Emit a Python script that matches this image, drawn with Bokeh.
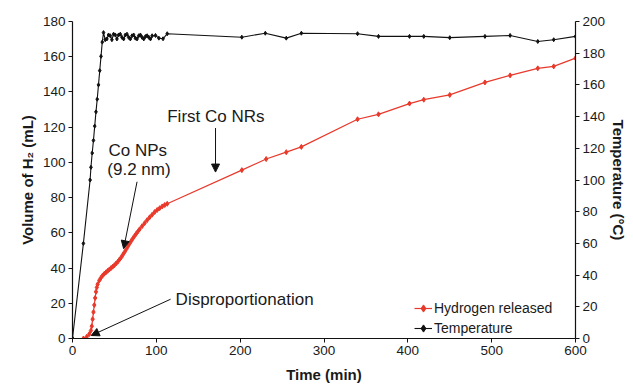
from bokeh.plotting import figure
from bokeh.models import (Range1d, LinearAxis, Arrow, NormalHead, Label,
                          Legend, LegendItem, FixedTicker)
from bokeh.embed import file_html
from bokeh.resources import INLINE

# ---- data ----
h2_time = [0, 13, 17, 20, 22, 23, 24, 25, 26, 27, 28, 29, 30, 32, 34, 36, 38, 40,
           42, 44, 46, 48, 50, 52, 54, 56, 58, 60, 62, 64, 66, 68, 70, 72, 74, 76,
           78, 80, 83, 86, 89, 92, 95, 98, 101, 104, 107, 110, 113,
           202, 231, 255, 273, 340, 365, 402, 419, 450, 492, 522, 555, 574, 600]
h2_volume = [0, 0, 1, 2.5, 4.5, 7, 11, 15, 19, 23, 26.5, 29, 30.8, 33, 34.5, 35.8,
             36.8, 37.6, 38.4, 39.2, 40, 40.8, 41.6, 42.6, 43.6, 44.8, 46, 47.5, 49,
             50.6, 52.2, 53.8, 55.3, 56.8, 58.2, 59.5, 60.8, 62, 63.8, 65.5, 67.2,
             68.8, 70.3, 71.8, 73, 74, 75, 75.8, 76.5,
             95.6, 101.9, 105.8, 108.8, 124.5, 127.3, 133.4, 135.6, 138.3, 145.4,
             149.4, 153.4, 154.5, 159.2]

temp_time = [0, 13, 21, 22, 23.5, 25, 26.5, 28, 29.5, 31, 32.5, 34, 35.5, 37,
             39, 41, 43, 45, 47, 49, 51, 53, 55, 57, 59, 61, 63, 65, 67, 69, 71,
             73, 75, 77, 79, 81, 83, 85, 87, 89, 91, 93, 95, 99, 103, 108, 113,
             202, 230, 255, 273, 340, 365, 402, 419, 450, 492, 522, 555, 574, 600]
temp_value = [0, 60, 100, 108, 117, 125, 134, 143, 151, 160, 169, 178, 187, 193,
              188.5, 189, 191.5, 191, 188.5, 192, 191.5, 189, 191.5, 192, 190, 189,
              191.5, 192, 190, 189, 191, 191.5, 189.5, 189, 191, 191.5, 190, 189,
              190.5, 191, 190, 189, 191, 191.2, 189.5, 189.1, 192.3,
              190.1, 192.6, 189.5, 192.6, 192.3, 190.6, 190.6, 190.6, 189.8, 190.6,
              191.2, 187.4, 188.5, 190.6]

x_ticks = [0, 100, 200, 300, 400, 500, 600]
left_ticks = [0, 20, 40, 60, 80, 100, 120, 140, 160, 180]
right_ticks = [0, 20, 40, 60, 80, 100, 120, 140, 160, 180, 200]

FONT = "Liberation Sans"
RED = "#e8392b"
TXT = "#1a1a1a"

p = figure(width=633, height=385, x_range=Range1d(0, 600), y_range=Range1d(0, 180),
           output_backend="svg", toolbar_location=None,
           min_border_left=72, min_border_right=58, min_border_top=21,
           min_border_bottom=46)
p.extra_y_ranges = {"temp": Range1d(0, 200)}
p.outline_line_color = None
p.xgrid.visible = False
p.ygrid.visible = False
p.background_fill_color = "white"
p.border_fill_color = "white"

right_axis = LinearAxis(y_range_name="temp")
p.add_layout(right_axis, "right")

p.xaxis.ticker = FixedTicker(ticks=x_ticks)
p.yaxis[0].ticker = FixedTicker(ticks=left_ticks)
right_axis.ticker = FixedTicker(ticks=right_ticks)

p.xaxis.axis_label = "Time (min)"
p.yaxis[0].axis_label = "Volume of H\u2082 (mL)"
right_axis.axis_label = "Temperature (\u00b0C)"

for ax in [p.xaxis[0], p.yaxis[0], right_axis]:
    ax.axis_line_color = "#111111"
    ax.axis_line_width = 1.2
    ax.major_tick_line_color = "#111111"
    ax.major_tick_out = 4
    ax.major_tick_in = 0
    ax.minor_tick_line_color = None
    ax.major_label_text_font = FONT
    ax.major_label_text_font_size = "13.5px"
    ax.major_label_text_color = TXT
    ax.major_label_standoff = 3
    ax.axis_label_text_font = FONT
    ax.axis_label_text_font_size = "15px"
    ax.axis_label_text_font_style = "bold"
    ax.axis_label_text_color = TXT
p.yaxis[0].axis_label_standoff = 4
right_axis.axis_label_standoff = 2
p.xaxis.axis_label_standoff = 8
p.xaxis.major_label_standoff = 3

# ---- series ----
h_line = p.line(h2_time, h2_volume, line_color=RED, line_width=1.2)
h_pts = p.scatter(h2_time, h2_volume, marker="diamond", size=5, fill_color=RED,
                  line_color=RED)
t_line = p.line(temp_time, temp_value, line_color="#111111", line_width=1.1,
                y_range_name="temp")
t_pts = p.scatter(temp_time, temp_value, marker="diamond", size=4,
                  fill_color="#111111", line_color="#111111", y_range_name="temp")

legend = Legend(items=[LegendItem(label="Hydrogen released", renderers=[h_line, h_pts]),
                       LegendItem(label="Temperature", renderers=[t_line, t_pts])],
                location=(342, 0), label_text_font=FONT, label_text_font_size="14px",
                label_text_color=TXT, border_line_color=None,
                background_fill_alpha=0, glyph_width=18, glyph_height=20,
                label_height=20, spacing=0, padding=4, label_standoff=2)
p.add_layout(legend)

# ---- annotations ----
def label(x, y, text):
    p.add_layout(Label(x=x, y=y, text=text, text_font=FONT, text_font_size="17px",
                       text_color=TXT, text_baseline="middle", text_align="left"))

def arrow(x0, y0, x1, y1):
    p.add_layout(Arrow(end=NormalHead(size=8, fill_color="#111111",
                                      line_color="#111111"),
                       x_start=x0, y_start=y0, x_end=x1, y_end=y1,
                       line_color="#111111", line_width=1))

label(113, 126, "First Co NRs")
arrow(170.6, 119.5, 170.6, 94.5)

label(43, 107, "Co NPs")
label(41.5, 96.2, "(9.2 nm)")
arrow(77, 89, 61, 51)

label(123, 22.3, "Disproportionation")
arrow(117, 22.3, 22.3, 1.7)

open("out.html", "w").write(file_html(p, INLINE))
